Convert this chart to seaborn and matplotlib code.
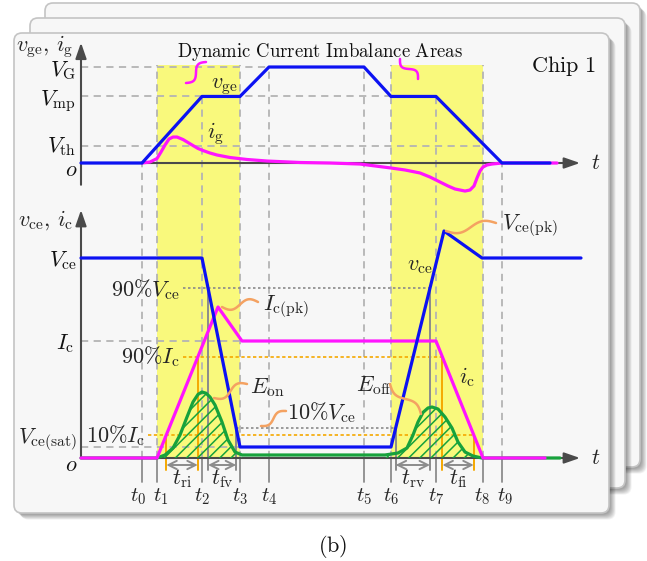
import numpy as np
import pandas as pd
import matplotlib
matplotlib.use("Agg")
import matplotlib.pyplot as plt
import seaborn as sns
from matplotlib.patches import FancyBboxPatch

# ---------------- data ----------------
t_labels = ["t_0", "t_1", "t_2", "t_3", "t_4", "t_5", "t_6", "t_7", "t_8", "t_9"]
t_marks = [6.1, 7.6, 12.1, 15.9, 18.8, 28.3, 31.0, 35.5, 40.2, 42.1]

# gate side
V_G, V_MP, V_TH = 15.0, 10.4, 2.7
vge_time = [0.0, 6.1, 12.1, 15.9, 18.8, 28.3, 31.0, 35.5, 42.1, 46.9]
vge_val = [0.0, 0.0, 10.4, 10.4, 15.0, 15.0, 10.4, 10.4, 0.0, 0.0]
ig_time = [6.1, 6.9, 7.6, 8.0, 8.4, 8.8, 9.2, 9.6, 10.2, 10.7, 11.2, 11.7, 12.2,
           12.9, 13.6, 14.9, 16.6, 18.6, 21.9, 24.9, 27.9, 31.0, 32.4, 33.9, 34.9,
           35.9, 36.7, 37.4, 38.4, 38.9, 39.3, 39.6, 39.9, 40.2, 40.6, 41.1, 42.1, 47.6]
ig_val = [0.0, 0.16, 0.7, 1.72, 2.81, 3.75, 4.06, 4.06, 3.67, 3.2, 2.73, 2.27, 1.95,
          1.56, 1.25, 0.86, 0.55, 0.31, 0.08, 0.0, -0.16, -0.78, -1.09, -1.56, -2.19,
          -2.97, -3.59, -4.06, -4.38, -4.22, -3.59, -2.34, -1.25, -0.63, -0.31, -0.16, 0.0, 0.0]

# collector side (arbitrary units)
VCE, VCE_PK, VCE_90, VCE_10, VCE_SAT = 100.0, 113.5, 85.0, 15.0, 5.5
IC, IC_PK, IC_90, IC_10 = 58.5, 75.5, 50.5, 11.5
vce_time = [0.0, 12.1, 15.9, 31.0, 36.3, 40.1, 50.0]
vce_val = [100.0, 100.0, 5.5, 5.5, 113.5, 100.0, 100.0]
ic_time = [0.0, 7.6, 13.7, 16.1, 35.5, 40.2, 46.4]
ic_val = [0.0, 0.0, 75.5, 58.5, 58.5, 0.0, 0.0]
pon_time = [7.6, 8.4, 9.2, 9.9, 10.6, 11.2, 11.7, 12.1, 12.5, 12.9, 13.4, 14.1, 14.7, 15.4, 16.1]
pon_val = [0.0, 1.5, 5.0, 11.5, 20.5, 28.0, 31.8, 33.0, 32.4, 30.5, 26.5, 18.0, 9.0, 3.0, 1.5]
poff_time = [30.4, 31.7, 32.6, 33.2, 33.7, 34.2, 34.7, 35.1, 35.7, 36.4, 37.1, 37.7, 38.4, 39.2, 40.1]
poff_val = [1.5, 2.5, 5.0, 11.5, 18.0, 22.8, 25.0, 25.5, 24.5, 20.5, 15.0, 8.0, 3.0, 1.0, 0.0]
p_time = [0.0] + pon_time + poff_time + [47.9]
p_val = [0.0] + pon_val + poff_val + [0.0]

# ---------------- style ----------------
sns.set_theme(style="white")
plt.rcParams["font.family"] = ["DejaVu Serif"]
plt.rcParams["mathtext.fontset"] = "cm"
plt.rcParams["hatch.linewidth"] = 1.1

BLUE = "#0c12f2"
MAG = "#ff14ff"
GREEN = "#17a23c"
YELLOW = "#f9f97c"
SQ_ORANGE = "#f4a262"
ORANGE = "#f5a800"
DASH = "#b4b4b4"
AXC = "#4a4a4a"
GRAYL = "#8c8c8c"
FS = 16
LW = 2.3

W, H = 647, 561
fig = plt.figure(figsize=(W / 100, H / 100), dpi=100)


def px_rect(x0, y0, x1, y1):
    return [x0 / W, 1 - y1 / H, (x1 - x0) / W, (y1 - y0) / H]


# background (cards)
bg = fig.add_axes([0, 0, 1, 1], zorder=0)
bg.set_xlim(0, W)
bg.set_ylim(H, 0)
bg.axis("off")
cards = [(45, 3, 640, 467), (30, 18, 625, 488), (14, 33, 609, 513)]
for (x0, y0, x1, y1) in cards:
    for k in range(1, 9):
        bg.add_patch(FancyBboxPatch((x0 + 1 + 0.7 * k, y0 + 1 + 0.7 * k), x1 - x0, y1 - y0,
                                    boxstyle="round,pad=0,rounding_size=8",
                                    fc="black", ec="none", alpha=0.05))
    bg.add_patch(FancyBboxPatch((x0, y0), x1 - x0, y1 - y0,
                                boxstyle="round,pad=0,rounding_size=8",
                                fc="#f7f7f7", ec="#c4c4c4", lw=1.2))

# panels: x_px = 81 + 10*t ; top y_px = 163 - 6.4*v ; bottom y_px = 458 - 2*v
ax_b = fig.add_axes(px_rect(60, 200, 600, 510), zorder=1)
ax_b.set_xlim(-2.1, 51.9)
ax_b.set_ylim(-26, 129)
ax_t = fig.add_axes(px_rect(60, 40, 600, 200), zorder=2)
ax_t.set_xlim(-2.1, 51.9)
ax_t.set_ylim(-5.78, 19.22)
for a in (ax_t, ax_b):
    a.axis("off")
    a.patch.set_alpha(0)


def top_to_bottom(v):
    d = ax_t.transData.transform((0, v))
    return ax_b.transData.inverted().transform(d)[1]


band_top = top_to_bottom(V_G + 0.35)

# yellow bands (span both panels)
for a0, a1 in [(t_marks[1], t_marks[3]), (t_marks[6], t_marks[8])]:
    ax_b.fill_between([a0, a1], 0, band_top, color=YELLOW, lw=0, clip_on=False, zorder=0)

# vertical dashed guide lines
starts = [top_to_bottom(0), band_top, top_to_bottom(V_MP), band_top, top_to_bottom(V_G),
          top_to_bottom(V_G), band_top, top_to_bottom(V_MP), band_top, top_to_bottom(0)]
for tm, s in zip(t_marks, starts):
    ax_b.plot([tm, tm], [0, s], color=DASH, lw=1.3, ls=(0, (4, 3)), clip_on=False, zorder=1)
    ax_b.plot([tm, tm], [0, -12], color=GRAYL, lw=1.3, zorder=1)

# ---------- top panel ----------
for lvl, tend in [(V_G, t_marks[4]), (V_MP, t_marks[6]), (V_TH, t_marks[8])]:
    ax_t.plot([0, tend], [lvl, lvl], color=DASH, lw=1.3, ls=(0, (4, 3)), zorder=1)
arrow_kw = dict(arrowstyle="-|>,head_length=0.95,head_width=0.33", lw=1.5,
                color=AXC, shrinkA=0, shrinkB=0, mutation_scale=10)
ax_t.annotate("", xy=(0, 18.8), xytext=(0, -3.4), arrowprops=arrow_kw, zorder=2)
ax_t.annotate("", xy=(49.9, 0), xytext=(0, 0), arrowprops=arrow_kw, zorder=2)
sns.lineplot(x=ig_time, y=ig_val, ax=ax_t, color=MAG, lw=LW, sort=False,
             estimator=None, legend=False, zorder=3)
sns.lineplot(x=vge_time, y=vge_val, ax=ax_t, color=BLUE, lw=LW, sort=False,
             estimator=None, legend=False, zorder=4)
ax_t.axis("off")


def lab(ax, x, y, s, ha="right", dy=-6.0, size=FS):
    ax.annotate(s, xy=(x, y), xytext=(0, dy), textcoords="offset points",
                ha=ha, va="baseline", fontsize=size, color="#111111")


lab(ax_t, -0.5, V_G, r"$V_{\rm G}$", dy=-6.8)
lab(ax_t, -0.5, V_MP, r"$V_{\rm mp}$")
lab(ax_t, -0.5, V_TH, r"$V_{\rm th}$", dy=-4.8)
lab(ax_t, -0.4, 0, r"$o$", dy=-9.0)
ax_t.text(-0.8, 18.2, r"$v_{\rm ge},\, i_{\rm g}$", ha="right", va="center", fontsize=FS)
ax_t.text(14.3, 12.0, r"$v_{\rm ge}$", ha="center", va="center", fontsize=FS)
ax_t.text(13.5, 4.6, r"$i_{\rm g}$", ha="center", va="center", fontsize=FS)
ax_t.text(51.5, 0.0, r"$t$", ha="center", va="center", fontsize=FS)

# ---------- bottom panel ----------
for lvl, tend in [(IC, 16.1), (VCE_SAT, t_marks[3])]:
    ax_b.plot([0, tend], [lvl, lvl], color=DASH, lw=1.3, ls=(0, (4, 3)), zorder=1)

# crossing instants
t_i10r = np.interp(IC_10, ic_val[1:3], ic_time[1:3])
t_i90r = np.interp(IC_90, ic_val[1:3], ic_time[1:3])
t_i90f = np.interp(IC_90, ic_val[4:6][::-1], ic_time[4:6][::-1])
t_i10f = np.interp(IC_10, ic_val[4:6][::-1], ic_time[4:6][::-1])
t_v90f = np.interp(VCE_90, vce_val[1:3][::-1], vce_time[1:3][::-1])
t_v10f = np.interp(VCE_10, vce_val[1:3][::-1], vce_time[1:3][::-1])
t_v10r = np.interp(VCE_10, vce_val[3:5], vce_time[3:5])
t_v90r = np.interp(VCE_90, vce_val[3:5], vce_time[3:5])

ax_b.plot([10.2, t_v90r], [VCE_90, VCE_90], color="#8a8a8a", lw=1.2, ls=(0, (1.5, 1.5)), zorder=1)
ax_b.plot([t_v10f, t_v10r], [VCE_10, VCE_10], color="#8a8a8a", lw=1.2, ls=(0, (1.5, 1.5)), zorder=1)
ax_b.plot([10.2, t_i90f], [IC_90, IC_90], color=ORANGE, lw=1.2, ls=(0, (2, 1.5)), zorder=1)
ax_b.plot([6.7, t_i10f], [IC_10, IC_10], color=ORANGE, lw=1.2, ls=(0, (2, 1.5)), zorder=1)
for tt, lv in [(t_i10r, IC_10), (t_i90r, IC_90), (t_i90f, IC_90), (t_i10f, IC_10)]:
    ax_b.plot([tt, tt], [lv, -6], color=ORANGE, lw=1.4, zorder=1)
for tt, lv in [(t_v90f, VCE_90), (t_v10f, VCE_10), (t_v10r, VCE_10), (t_v90r, VCE_90)]:
    ax_b.plot([tt, tt], [lv, -6], color=GRAYL, lw=1.4, zorder=1)

# axes arrows
ax_b.annotate("", xy=(0, 124), xytext=(0, 0), arrowprops=arrow_kw, zorder=2)
ax_b.annotate("", xy=(49.9, 0), xytext=(0, 0), arrowprops=arrow_kw, zorder=2)

# energy hatches
ax_b.fill_between(pon_time, 0, pon_val, facecolor="none", edgecolor=GREEN, hatch="///", lw=0, zorder=2)
ax_b.fill_between(poff_time, 0, poff_val, facecolor="none", edgecolor=GREEN, hatch="///", lw=0, zorder=2)

sns.lineplot(x=p_time, y=p_val, ax=ax_b, color=GREEN, lw=LW, sort=False,
             estimator=None, legend=False, zorder=3)
sns.lineplot(x=ic_time, y=ic_val, ax=ax_b, color=MAG, lw=LW, sort=False,
             estimator=None, legend=False, zorder=4)
sns.lineplot(x=vce_time, y=vce_val, ax=ax_b, color=BLUE, lw=LW, sort=False,
             estimator=None, legend=False, zorder=5)
ax_b.axis("off")

# interval arrows
for a0, a1, txt in [(t_i10r, t_i90r, r"$t_{\rm ri}$"), (t_v90f, t_v10f, r"$t_{\rm fv}$"),
                    (t_v10r, t_v90r, r"$t_{\rm rv}$"), (t_i90f, t_i10f, r"$t_{\rm fi}$")]:
    ax_b.annotate("", xy=(a1, -3.5), xytext=(a0, -3.5),
                  arrowprops=dict(arrowstyle="<->,head_length=0.5,head_width=0.25", lw=1.4,
                                  color=GRAYL, shrinkA=0, shrinkB=0, mutation_scale=12), zorder=6)
    ax_b.text((a0 + a1) / 2, -10.5, txt, ha="center", va="center", fontsize=FS)

# instant labels (a few nudged sideways as in the reference to avoid crowding)
nudge_pt = {0: -2.5, 1: 2.5, 8: -1.0, 9: 2.5}
for i, (tm, nm) in enumerate(zip(t_marks, t_labels)):
    ax_b.annotate("$" + nm + "$", xy=(tm, -19.5), xytext=(nudge_pt.get(i, 0.0), 0),
                  textcoords="offset points", ha="center", va="center", fontsize=15)

lab(ax_b, -0.4, VCE, r"$V_{\rm ce}$")
lab(ax_b, -0.7, IC, r"$I_{\rm c}$")
lab(ax_b, -0.4, 0, r"$o$", dy=-9.5)
ax_b.text(-0.8, 119, r"$v_{\rm ce},\, i_{\rm c}$", ha="right", va="center", fontsize=FS)
ax_b.text(9.9, 84, r"$90\%V_{\rm ce}$", ha="right", va="center", fontsize=FS)
ax_b.text(9.9, 50.5, r"$90\%I_{\rm c}$", ha="right", va="center", fontsize=FS)
ax_b.text(6.4, 11.2, r"$10\%I_{\rm c}$", ha="right", va="center", fontsize=FS)
ax_b.text(-0.4, 9.0, r"$V_{\rm ce(sat)}$", ha="right", va="center", fontsize=FS)
ax_b.text(18.2, 75.5, r"$I_{\rm c(pk)}$", ha="left", va="center", fontsize=FS)
ax_b.text(42.1, 116, r"$V_{\rm ce(pk)}$", ha="left", va="center", fontsize=FS)
ax_b.text(32.6, 96.5, r"$v_{\rm ce}$", ha="left", va="center", fontsize=FS)
ax_b.text(37.8, 40.5, r"$i_{\rm c}$", ha="left", va="center", fontsize=FS)
ax_b.text(16.9, 35, r"$E_{\rm on}$", ha="left", va="center", fontsize=FS)
ax_b.text(20.6, 22.5, r"$10\%V_{\rm ce}$", ha="left", va="center", fontsize=FS)
ax_b.text(27.5, 36, r"$E_{\rm off}$", ha="left", va="center", fontsize=FS)
ax_b.text(51.5, 0.0, r"$t$", ha="center", va="center", fontsize=FS)

# ---------- overlay: title texts and squiggle connectors ----------
ov = fig.add_axes([0, 0, 1, 1], zorder=6)
ov.set_xlim(0, W)
ov.set_ylim(H, 0)
ov.axis("off")
ov.patch.set_alpha(0)


def squiggle(p0, p1, color, amp=4.0):
    p0 = np.asarray(p0, float)
    p1 = np.asarray(p1, float)
    s = np.linspace(0, 1, 80)
    d = p1 - p0
    n = np.array([-d[1], d[0]]) / np.hypot(*d)
    pts = p0[None, :] + s[:, None] * d[None, :] + (amp * np.sin(2 * np.pi * s))[:, None] * n[None, :]
    ov.plot(pts[:, 0], pts[:, 1], color=color, lw=1.8, solid_capstyle="round")


squiggle((186, 83), (206, 62), MAG, 4)
squiggle((400, 59), (418, 79), MAG, 4)
squiggle((222, 307), (258, 302), SQ_ORANGE, 4)
squiggle((446, 231), (496, 223), SQ_ORANGE, 4)
squiggle((214, 398), (247, 384), SQ_ORANGE, 4)
squiggle((261, 426), (286, 411), SQ_ORANGE, 3)
squiggle((390, 384), (421, 414), SQ_ORANGE, 4)

ov.text(320, 52, r"$\mathrm{Dynamic\ Current\ Imbalance\ Areas}$", ha="center", va="center",
        fontsize=13.5, color="#111111")
ov.text(563, 66, r"$\mathrm{Chip\ 1}$", ha="center", va="center", fontsize=FS, color="#111111")
ov.text(333, 546, r"$\mathrm{(b)}$", ha="center", va="center", fontsize=FS, color="#111111")

fig.savefig("out.png", dpi=100)
